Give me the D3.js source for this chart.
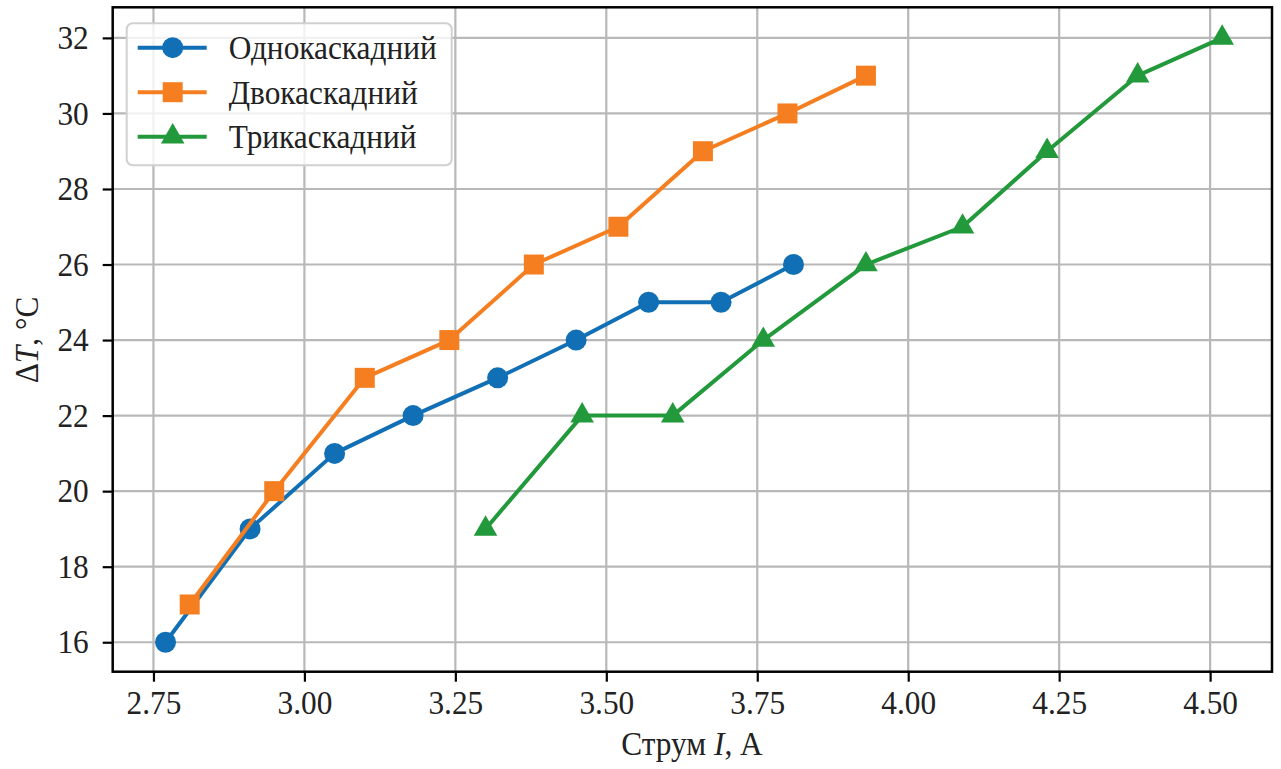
<!DOCTYPE html>
<html>
<head>
<meta charset="utf-8">
<script src="https://cdn.jsdelivr.net/npm/d3@7"></script>
<style>
  body { margin: 0; background: #fff; }
  svg text { font-family: "Liberation Serif", "Times New Roman", serif; fill: #222; }
</style>
</head>
<body>
<div id="chart"></div>
<script>
// data
var xOne = [2.77, 2.91, 3.05, 3.18, 3.32, 3.45, 3.57, 3.69, 3.81];
var yOne = [16, 19, 21, 22, 23, 24, 25, 25, 26];
var xTwo = [2.81, 2.95, 3.10, 3.24, 3.38, 3.52, 3.66, 3.80, 3.93];
var yTwo = [17, 20, 23, 24, 26, 27, 29, 30, 31];
var xThree = [3.30, 3.46, 3.61, 3.76, 3.93, 4.09, 4.23, 4.38, 4.52];
var yThree = [19, 22, 22, 24, 26, 27, 29, 31, 32];
var seriesNames = ["Однокаскадний", "Двокаскадний", "Трикаскадний"];
var xTicks = [2.75, 3.00, 3.25, 3.50, 3.75, 4.00, 4.25, 4.50];
var yTicks = [16, 18, 20, 22, 24, 26, 28, 30, 32];

var W = 1281, H = 769;
var margin = {top: 7.3, right: 9, bottom: 97.3, left: 112.7},
    width = W - margin.left - margin.right,
    height = H - margin.top - margin.bottom;
var sx = 0.95; // text is a little squeezed sideways

var svg = d3.select("#chart").append("svg")
    .attr("width", W)
    .attr("height", H);

var g = svg.append("g")
    .attr("transform", "translate(" + margin.left + "," + margin.top + ")");

var x = d3.scaleLinear().domain([2.6825, 4.6025]).range([0, width]);
var y = d3.scaleLinear().domain([15.22, 32.81]).range([height, 0]);

// grid
g.append("g").selectAll("line").data(xTicks).enter().append("line")
    .attr("x1", function(d) { return x(d); }).attr("x2", function(d) { return x(d); })
    .attr("y1", 0).attr("y2", height)
    .attr("stroke", "#b8b8b8").attr("stroke-width", 2.2);
g.append("g").selectAll("line").data(yTicks).enter().append("line")
    .attr("y1", function(d) { return y(d); }).attr("y2", function(d) { return y(d); })
    .attr("x1", 0).attr("x2", width)
    .attr("stroke", "#b8b8b8").attr("stroke-width", 2.2);

var series = [
  {name: seriesNames[0], xs: xOne, ys: yOne, color: "#1170b5", marker: "circle"},
  {name: seriesNames[1], xs: xTwo, ys: yTwo, color: "#f57f20", marker: "square"},
  {name: seriesNames[2], xs: xThree, ys: yThree, color: "#22993a", marker: "triangle"}
];

var symbols = {
  circle: d3.symbol().type(d3.symbolCircle).size(Math.PI * 10.5 * 10.5),
  square: d3.symbol().type(d3.symbolSquare).size(20 * 20),
  triangle: d3.symbol().type(d3.symbolTriangle).size(240)
};

var line = d3.line()
    .x(function(d) { return x(d[0]); })
    .y(function(d) { return y(d[1]); });

series.forEach(function(s) {
  var pts = s.xs.map(function(v, i) { return [v, s.ys[i]]; });
  g.append("path")
      .datum(pts)
      .attr("fill", "none")
      .attr("stroke", s.color)
      .attr("stroke-width", 4)
      .attr("stroke-linejoin", "round")
      .attr("d", line);
  g.append("g").selectAll("path").data(pts).enter().append("path")
      .attr("transform", function(d) { return "translate(" + x(d[0]) + "," + y(d[1]) + ")"; })
      .attr("d", symbols[s.marker])
      .attr("fill", s.color);
});

// axes
var xAxis = g.append("g")
    .attr("transform", "translate(0," + height + ")")
    .call(d3.axisBottom(x).tickValues(xTicks).tickFormat(d3.format(".2f")).tickSize(10).tickPadding(8));
var yAxis = g.append("g")
    .call(d3.axisLeft(y).tickValues(yTicks).tickSize(10).tickPadding(14));

[xAxis, yAxis].forEach(function(a) {
  a.select(".domain").remove();
  a.selectAll(".tick line").attr("stroke", "#000").attr("stroke-width", 2.2);
  a.selectAll(".tick text")
      .attr("font-size", 33)
      .attr("fill", "#222")
      .style("font-family", "'Liberation Serif', serif");
});
xAxis.selectAll(".tick text").attr("transform", "scale(" + sx + ",1)").attr("dy", "0.75em");
yAxis.selectAll(".tick text")
    .attr("x", -24 / sx)
    .attr("transform", "scale(" + sx + ",1)");

// frame
g.append("rect")
    .attr("width", width).attr("height", height)
    .attr("fill", "none").attr("stroke", "#000").attr("stroke-width", 2.5);

// axis labels
var xl = svg.append("text")
    .attr("transform", "translate(692,755) scale(" + sx + ",1)")
    .attr("text-anchor", "middle")
    .attr("font-size", 33);
xl.append("tspan").text("Струм ");
xl.append("tspan").attr("font-style", "italic").text("I");
xl.append("tspan").text(", А");

var yl = svg.append("text")
    .attr("transform", "translate(38,340) rotate(-90) scale(" + sx + ",1)")
    .attr("text-anchor", "middle")
    .attr("font-size", 33);
yl.append("tspan").text("Δ");
yl.append("tspan").attr("font-style", "italic").text("T");
yl.append("tspan").text(", °C");

// legend
var legend = svg.append("g").attr("transform", "translate(126.7,23.3)");
legend.append("rect")
    .attr("width", 325).attr("height", 142)
    .attr("rx", 6).attr("ry", 6)
    .attr("fill", "#fff").attr("fill-opacity", 0.8)
    .attr("stroke", "#d0d0d0").attr("stroke-width", 2);

series.forEach(function(s, i) {
  var row = legend.append("g").attr("transform", "translate(0," + (24.4 + i * 44.5) + ")");
  row.append("line")
      .attr("x1", 11).attr("x2", 80)
      .attr("stroke", s.color).attr("stroke-width", 4);
  row.append("path")
      .attr("transform", "translate(46,0)")
      .attr("d", symbols[s.marker])
      .attr("fill", s.color);
  row.append("text")
      .attr("transform", "translate(102,0) scale(" + sx + ",1)")
      .attr("dy", "0.35em")
      .attr("font-size", 33)
      .text(s.name);
});
</script>
</body>
</html>
